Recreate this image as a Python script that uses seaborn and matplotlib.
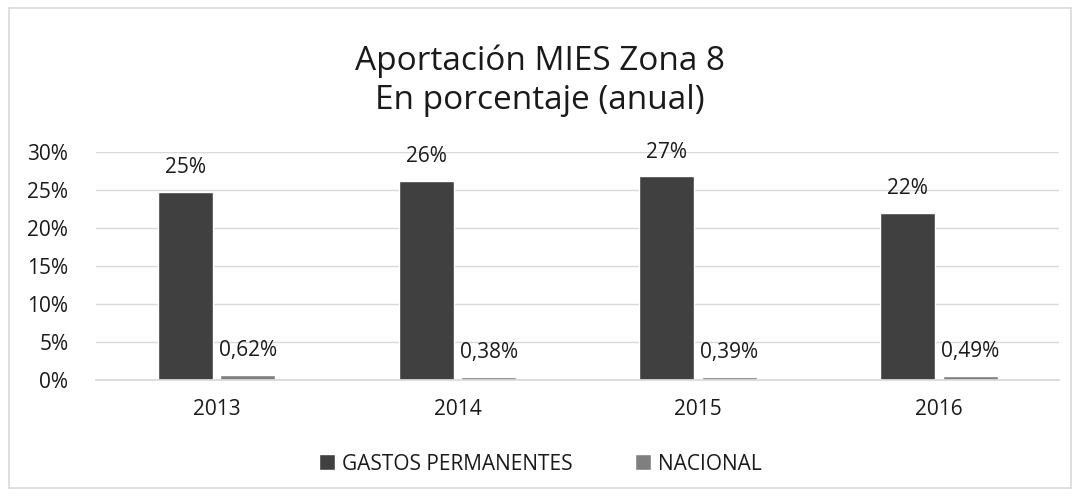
"""Aportación MIES Zona 8 - bar chart recreation."""

import matplotlib.pyplot as plt
import pandas as pd
import seaborn as sns
from matplotlib.patches import Rectangle

YEARS = ["2013", "2014", "2015", "2016"]
SERIES = ["GASTOS PERMANENTES", "NACIONAL"]
GASTOS = [24.7, 26.2, 26.8, 22.0]
NACIONAL = [0.62, 0.38, 0.39, 0.49]
GASTOS_LABELS = ["25%", "26%", "27%", "22%"]
NACIONAL_LABELS = ["0,62%", "0,38%", "0,39%", "0,49%"]
COLORS = ["#404040", "#7f7f7f"]


def main() -> None:
    sns.set_theme(style="white")
    plt.rcParams["font.family"] = ["Open Sans", "DejaVu Sans"]

    df = pd.DataFrame({
        "year": YEARS * 2,
        "value": GASTOS + NACIONAL,
        "series": [SERIES[0]] * 4 + [SERIES[1]] * 4,
    })

    fig = plt.figure(figsize=(10.8, 4.97), dpi=100)
    ax = fig.add_axes([0.089, 0.2354, 0.892, 0.4586])
    sns.barplot(data=df, x="year", y="value", hue="series", palette=COLORS,
                width=0.52, gap=0.12, ax=ax, legend=True)

    ax.set_ylim(0, 30)
    ax.set_yticks(range(0, 31, 5))
    ax.set_yticklabels([f"{v}%" for v in range(0, 31, 5)], fontsize=15, color="#1a1a1a")
    ax.tick_params(axis="x", labelsize=15, labelcolor="#1a1a1a", pad=14)
    ax.tick_params(axis="y", pad=20, length=0)
    ax.tick_params(axis="x", length=0)
    ax.set_xlabel("")
    ax.set_ylabel("")
    ax.grid(axis="y", color="#d9d9d9", linewidth=1)
    ax.set_axisbelow(True)
    for side in ["left", "right", "top"]:
        ax.spines[side].set_visible(False)
    ax.spines["bottom"].set_color("#d9d9d9")
    ax.set_xlim(-0.5, 3.5)

    for container, labels in zip(ax.containers, [GASTOS_LABELS, NACIONAL_LABELS]):
        ax.bar_label(container, labels=labels, padding=10, fontsize=15, color="#1a1a1a")

    handles, _ = ax.get_legend_handles_labels()
    fig.legend(handles, SERIES, loc="center", bbox_to_anchor=(0.5, 0.066),
               ncol=2, frameon=False, fontsize=15, handlelength=0.8, handleheight=0.8,
               handletextpad=0.3, columnspacing=3.0, labelcolor="#1a1a1a")
    ax.get_legend().remove()

    fig.text(0.5, 0.877, "Aportación MIES Zona 8", ha="center", va="center",
             fontsize=24, color="#1a1a1a")
    fig.text(0.5, 0.797, "En porcentaje (anual)", ha="center", va="center",
             fontsize=24, color="#1a1a1a")

    fig.patches.append(Rectangle((0.008, 0.018), 0.984, 0.966, transform=fig.transFigure,
                                 fill=False, edgecolor="#d9d9d9", linewidth=1.2))

    fig.savefig("out.png", dpi=100)


if __name__ == "__main__":
    main()
